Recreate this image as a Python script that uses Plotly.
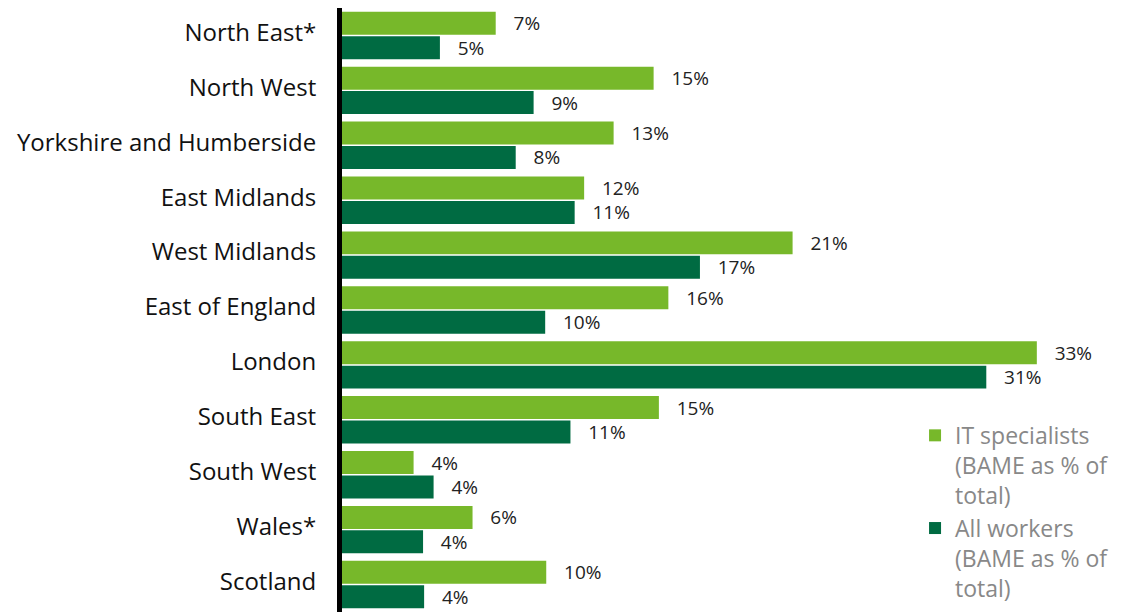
import plotly.graph_objects as go

regions = ["North East*", "North West", "Yorkshire and Humberside", "East Midlands",
           "West Midlands", "East of England", "London", "South East", "South West",
           "Wales*", "Scotland"]
it_specialists = [7.3, 14.8, 12.9, 11.5, 21.4, 15.5, 33.0, 15.05, 3.4, 6.2, 9.7]
all_workers = [4.65, 9.1, 8.25, 11.05, 17.0, 9.65, 30.6, 10.85, 4.35, 3.85, 3.9]
it_labels = ["7%", "15%", "13%", "12%", "21%", "16%", "33%", "15%", "4%", "6%", "10%"]
all_labels = ["5%", "9%", "8%", "11%", "17%", "10%", "31%", "11%", "4%", "4%", "4%"]

LIGHT = "#77b82a"
DARK = "#006b42"
FONT = "Open Sans"

fig = go.Figure()
fig.add_trace(go.Bar(
    y=regions, x=it_specialists, orientation="h",
    name="IT specialists<br>(BAME as % of<br>total)",
    marker=dict(color=LIGHT, line=dict(width=0)),
    text=["   " + t for t in it_labels], textposition="outside",
    textfont=dict(family=FONT, size=19, color="#222222"),
    constraintext="none", cliponaxis=False,
))
fig.add_trace(go.Bar(
    y=regions, x=all_workers, orientation="h",
    name="All workers<br>(BAME as % of<br>total)",
    marker=dict(color=DARK, line=dict(width=0)),
    text=["   " + t for t in all_labels], textposition="outside",
    textfont=dict(family=FONT, size=19, color="#222222"),
    constraintext="none", cliponaxis=False,
))

fig.update_layout(
    width=1123, height=604,
    barmode="group", bargap=0.11, bargroupgap=0.06,
    plot_bgcolor="white", paper_bgcolor="white",
    margin=dict(l=334, r=31, t=0, b=0, autoexpand=False),
    font=dict(family=FONT, size=24, color="#111111"),
    xaxis=dict(range=[0, 36.0], visible=False, showgrid=False, zeroline=False,
               automargin=False),
    yaxis=dict(autorange="reversed", showline=True, linecolor="#000000", linewidth=5,
               showgrid=False, ticks="", ticklabelstandoff=16, ticklabelshift=3,
               automargin=False,
               tickfont=dict(family=FONT, size=24, color="#111111")),
    legend=dict(x=0.756, y=0.328, xanchor="left", yanchor="top", valign="top",
                font=dict(family=FONT, size=23, color="#888888"),
                bgcolor="rgba(0,0,0,0)", tracegroupgap=2, traceorder="normal"),
)

fig.write_html("out.html")
